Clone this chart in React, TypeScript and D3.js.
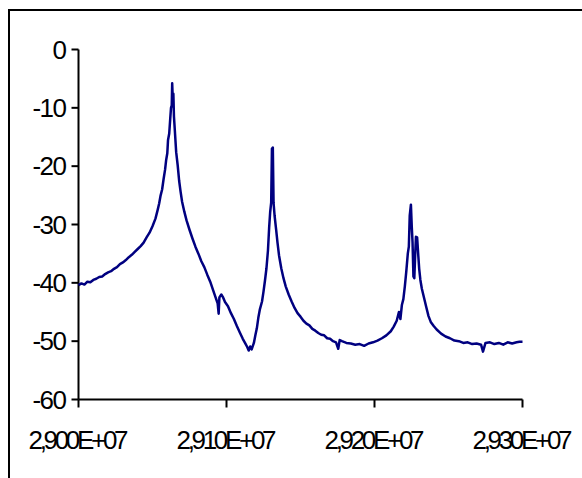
import React from "react";
import * as d3 from "d3";

// Frequency sweep (Hz) and measured level (dB)
const frequencies: number[] = [
  29000000, 29002000, 29004000, 29006000, 29008000, 29010000, 29012000, 29014000,
  29016000, 29018000, 29020000, 29022000, 29024000, 29026000, 29028000, 29030000,
  29032000, 29034000, 29036000, 29038000, 29040000, 29042000, 29044000, 29046000,
  29048000, 29050000, 29052000, 29053500, 29054500, 29055500, 29056500, 29057500,
  29058500, 29059200, 29060000, 29060500, 29061300, 29062000, 29062500, 29063000,
  29063300, 29063700, 29064100, 29064500, 29065000, 29066000, 29067000, 29068000,
  29069000, 29070000, 29071500, 29073000, 29075000, 29077000, 29079000, 29081000,
  29083000, 29085000, 29087000, 29089000, 29091000, 29092500, 29094000, 29094700,
  29095200, 29096500, 29097500, 29099000, 29101000, 29103000, 29105000, 29107000,
  29109000, 29111000, 29112500, 29114000, 29115000, 29116000, 29117000, 29118500,
  29119500, 29120500, 29121500, 29122500, 29124000, 29125000, 29126000, 29127000,
  29128000, 29128800, 29129500, 29130200, 29130700, 29131300, 29131800, 29132500,
  29133500, 29134500, 29135500, 29137000, 29138500, 29140000, 29142000, 29144000,
  29146000, 29148000, 29150000, 29152000, 29154000, 29156000, 29158000, 29160000,
  29162000, 29164000, 29166000, 29168000, 29170000, 29172000, 29174000, 29175500,
  29176500, 29178000, 29181000, 29184000, 29187000, 29190000, 29193000, 29196000,
  29199000, 29202000, 29205000, 29208000, 29211000, 29213000, 29215000, 29216500,
  29217500, 29218500, 29219500, 29220500, 29221500, 29222500, 29223200, 29223800,
  29224600, 29225200, 29225700, 29226300, 29226900, 29227600, 29228000, 29228800,
  29229500, 29230200, 29231000, 29232000, 29233500, 29235000, 29236500, 29238000,
  29240000, 29242000, 29245000, 29248000, 29251000, 29254000, 29257000, 29260000,
  29263000, 29266000, 29269000, 29272000, 29273300, 29275000, 29278000, 29281000,
  29284000, 29287000, 29290000, 29293000, 29296000, 29298000, 29300000,
];

const levels: number[] = [
  -40.4, -40.1, -40.3, -39.8, -39.9, -39.5, -39.3, -39.0,
  -38.9, -38.5, -38.2, -38.0, -37.6, -37.3, -36.8, -36.5,
  -36.1, -35.6, -35.2, -34.7, -34.2, -33.7, -33.1, -32.2,
  -31.4, -30.3, -29.0, -27.5, -26.4, -25.0, -24.0, -22.2,
  -20.6, -19.0, -17.8, -15.5, -14.4, -11.8, -10.0, -9.6,
  -5.8, -8.6, -7.6, -11.5, -13.5, -17.6, -19.8, -22.5,
  -24.4, -26.1, -27.8, -29.3, -30.9, -32.4, -33.8, -35.0,
  -36.3, -37.3, -38.6, -39.8, -41.3, -42.4, -43.5, -45.3,
  -42.5, -42.0, -42.4, -43.3, -44.0, -45.2, -46.2, -47.4,
  -48.5, -49.6, -50.3, -51.0, -51.6, -50.9, -51.4, -50.3,
  -49.0, -47.8, -46.0, -44.6, -43.2, -41.5, -39.6, -37.5,
  -34.5, -30.6, -27.9, -26.2, -17.0, -16.8, -26.3, -28.5,
  -30.8, -33.2, -35.3, -37.5, -39.2, -40.6, -42.0, -43.2,
  -44.3, -45.2, -45.8, -46.5, -47.0, -47.3, -47.9, -48.2,
  -48.6, -48.9, -49.0, -49.5, -49.6, -50.0, -50.2, -51.3,
  -49.8, -50.0, -50.3, -50.4, -50.6, -50.5, -50.8, -50.4,
  -50.2, -49.9, -49.5, -49.0, -48.3, -47.5, -46.5, -45.0,
  -46.2, -43.8, -42.8, -40.6, -38.0, -35.0, -33.8, -28.5,
  -26.6, -30.5, -33.0, -38.9, -39.2, -34.5, -32.1, -32.2,
  -35.0, -37.6, -39.5, -41.0, -42.6, -44.2, -45.7, -46.7,
  -47.4, -48.0, -48.7, -49.2, -49.5, -49.9, -50.0, -50.3,
  -50.2, -50.5, -50.4, -50.6, -51.8, -50.3, -50.2, -50.5,
  -50.3, -50.6, -50.2, -50.4, -50.2, -50.1, -50.1,
];

const xTicks: number[] = [29000000, 29100000, 29200000, 29300000];
const xTickLabels: string[] = ["2,900E+07", "2,910E+07", "2,920E+07", "2,930E+07"];
const yTicks: number[] = [0, -10, -20, -30, -40, -50, -60];

const W = 582;
const H = 478;
const plot = { left: 78.5, right: 522.5, top: 49.5, bottom: 399.5 };
const FONT = "'Liberation Sans', Arial, sans-serif";

export default function App() {
  const x = d3.scaleLinear().domain([29000000, 29300000]).range([plot.left, plot.right]);
  const y = d3.scaleLinear().domain([-60, 0]).range([plot.bottom, plot.top]);

  const points: [number, number][] = frequencies.map((f, i) => [f, levels[i]]);
  const line = d3
    .line<[number, number]>()
    .x((d) => x(d[0]))
    .y((d) => y(d[1]));

  return (
    <svg
      width={W}
      height={H}
      style={{ position: "absolute", left: 0, top: 0, background: "#fff" }}
    >
      <rect x={0} y={0} width={W} height={H} fill="#fff" />
      {/* chart frame */}
      <rect x={9} y={10} width={W + 20} height={H + 20} fill="none" stroke="#000" strokeWidth={2} />

      {/* y axis */}
      <line x1={plot.left} x2={plot.left} y1={plot.top} y2={plot.bottom} stroke="#000" strokeWidth={2} />
      {yTicks.map((t) => (
        <g key={`y${t}`}>
          <line x1={plot.left - 7} x2={plot.left} y1={y(t)} y2={y(t)} stroke="#000" strokeWidth={2} />
          <text
            x={plot.left - 13}
            y={y(t) + 9}
            textAnchor="end"
            fontFamily={FONT}
            fontSize={26}
            letterSpacing={-1.5}
            fill="#000"
          >
            {t}
          </text>
        </g>
      ))}

      {/* x axis */}
      <line x1={plot.left} x2={plot.right} y1={plot.bottom} y2={plot.bottom} stroke="#000" strokeWidth={2} />
      {xTicks.map((t, i) => (
        <g key={`x${t}`}>
          <line x1={x(t)} x2={x(t)} y1={plot.bottom} y2={plot.bottom + 8} stroke="#000" strokeWidth={2} />
          <text
            x={x(t)}
            y={plot.bottom + 49}
            textAnchor="middle"
            fontFamily={FONT}
            fontSize={26}
            textLength={100}
            lengthAdjust="spacing"
            fill="#000"
          >
            {xTickLabels[i]}
          </text>
        </g>
      ))}

      {/* response trace */}
      <path
        d={line(points) ?? ""}
        fill="none"
        stroke="#000080"
        strokeWidth={2.5}
        strokeLinejoin="round"
      />
    </svg>
  );
}
